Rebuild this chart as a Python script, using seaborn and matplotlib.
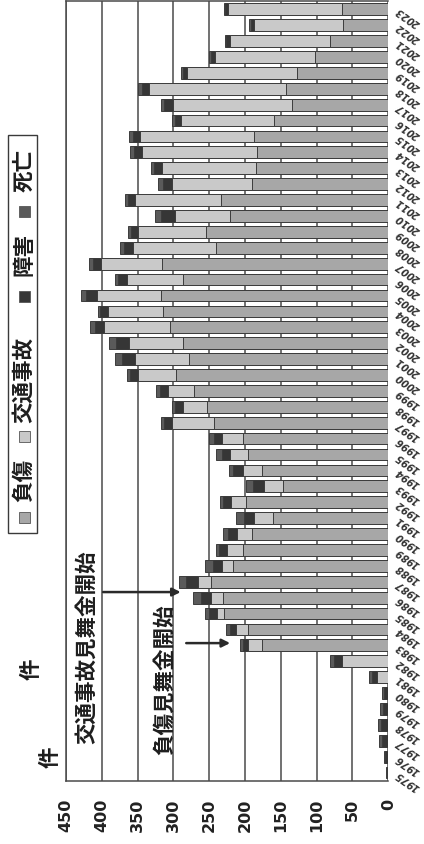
import matplotlib
matplotlib.use("Agg")
import matplotlib.pyplot as plt
from matplotlib.patches import Rectangle
import pandas as pd
import seaborn as sns

# ---------------- data ----------------
years = [str(y) for y in range(1975, 2024)]
injury = [0, 0, 0, 0, 0, 0, 0, 0, 177, 196,
          230, 231, 248, 217, 203, 191, 161, 199, 147, 177,
          196, 203, 243, 253, 271, 297, 278, 287, 305, 314,
          318, 286, 316, 241, 254, 221, 234, 190, 185, 184,
          187, 160, 135, 143, 127, 103, 81, 63, 64]
traffic = [0, 0, 0, 0, 0, 0, 16, 65, 19, 17,
           9, 16, 18, 15, 22, 20, 27, 20, 26, 26,
           25, 29, 59, 34, 36, 52, 76, 75, 92, 78,
           89, 79, 85, 116, 95, 77, 119, 112, 131, 160,
           160, 130, 166, 191, 154, 139, 140, 124, 160]
disability = [2, 4, 9, 10, 7, 6, 7, 11, 7, 8,
              11, 15, 16, 13, 11, 13, 14, 12, 16, 14,
              11, 11, 11, 11, 12, 11, 18, 18, 13, 10,
              15, 12, 12, 12, 10, 19, 10, 13, 11, 11,
              10, 8, 12, 10, 6, 6, 5, 5, 4]
death = [1, 2.5, 4.5, 5, 4, 3, 4.5, 6, 4, 5,
         6, 10, 10, 11, 4, 7, 11, 4, 9, 5,
         8, 7, 5, 4, 5, 5, 9, 10, 7, 4,
         7, 5, 5, 5, 4, 9, 5, 6, 5, 5,
         5, 4, 5, 5, 3, 2, 2, 3, 2]
series_names = ["負傷", "交通事故", "障害", "死亡"]
value_ticks = [0, 50, 100, 150, 200, 250, 300, 350, 400, 450]

colors = {"負傷": "#a7a7a7", "交通事故": "#c9c9c9", "障害": "#363636", "死亡": "#5a5a5a"}

df = pd.DataFrame({"year": years, "負傷": injury, "交通事故": traffic,
                   "障害": disability, "死亡": death})
df["c1"] = df["負傷"]
df["c2"] = df["c1"] + df["交通事故"]
df["c3"] = df["c2"] + df["障害"]
df["c4"] = df["c3"] + df["死亡"]

# ---------------- style ----------------
sns.set_theme(style="white")
plt.rcParams["font.family"] = ["Noto Sans CJK JP", "DejaVu Sans"]

W, H = 424, 844
fig = plt.figure(figsize=(W / 100, H / 100), dpi=100)
fig.patch.set_facecolor("white")

def fx(x):
    return x / W

def fy(y):
    return 1 - y / H

ax = fig.add_axes([fx(66), fy(780.5), (388.3 - 66) / W, (780.5 - 1.3) / H])

order = years[::-1]  # newest at the top
for col, name in [("c4", "死亡"), ("c3", "障害"), ("c2", "交通事故"), ("c1", "負傷")]:
    sns.barplot(data=df, x=col, y="year", order=order, orient="h",
                color=colors[name], saturation=1, width=0.74,
                edgecolor="#3c3c3c", linewidth=0.7, ax=ax, errorbar=None)

ax.set_xlim(450, 0)
ax.set_ylim(len(order) - 0.5, -0.5)
ax.set_xticks(value_ticks)
ax.set_xticklabels([str(v) for v in value_ticks], rotation=90,
                   fontsize=11.5, fontweight="bold", color="#222222",
                   family=["DejaVu Sans"])
ax.tick_params(axis="x", length=0, pad=13)
ax.xaxis.grid(True, color="#4a4a4a", linewidth=1.1)
ax.yaxis.grid(False)
ax.set_axisbelow(True)
ax.set_xlabel("")
ax.set_ylabel("")

ax.yaxis.tick_right()
ax.set_yticks(range(len(order)))
ax.set_yticklabels(order, fontsize=7, fontweight="bold", color="#333333",
                   family=["DejaVu Sans"], style="italic")
ax.tick_params(axis="y", length=0, pad=6)
for lab in ax.get_yticklabels():
    lab.set_rotation(145)
    lab.set_rotation_mode("anchor")
    lab.set_ha("right")
    lab.set_va("center")

for s in ax.spines.values():
    s.set_color("#4a4a4a")
    s.set_linewidth(1.1)
ax.spines["right"].set_visible(False)

# ---------------- annotations ----------------
cjk = dict(rotation=90, fontsize=15.5, fontweight="bold", color="#1e1e1e",
           ha="center", va="center", transform=fig.transFigure)
fig.text(fx(87), fy(647), "交通事故見舞金開始", **cjk)
fig.text(fx(164), fy(680), "負傷見舞金開始", **cjk)
fig.text(fx(31), fy(669), "件", **cjk)
fig.text(fx(50), fy(757), "件", **cjk)

arrow = dict(arrowstyle="-|>", color="#2a2a2a", lw=1.8, mutation_scale=12)
ax.annotate("", xy=(286, 36.65), xytext=(402, 36.65), arrowprops=arrow,
            annotation_clip=False)
ax.annotate("", xy=(217, 39.86), xytext=(286, 39.86), arrowprops=arrow,
            annotation_clip=False)

# ---------------- legend (rotated) ----------------
fig.patches.append(Rectangle((fx(8), fy(533)), 29 / W, 398 / H,
                             transform=fig.transFigure, fill=False,
                             ec="#3a3a3a", lw=1.0))
leg_sq_y = [517.5, 436, 296, 211]
leg_tx_y = [480, 380, 255, 170]
for name, sy, ty in zip(series_names, leg_sq_y, leg_tx_y):
    fig.patches.append(Rectangle((fx(19), fy(sy + 5.5)), 11 / W, 11 / H,
                                 transform=fig.transFigure, fc=colors[name],
                                 ec="#555555", lw=0.6))
    fig.text(fx(23.5), fy(ty), name, **cjk)

fig.savefig("out.png", dpi=100, facecolor="white")
